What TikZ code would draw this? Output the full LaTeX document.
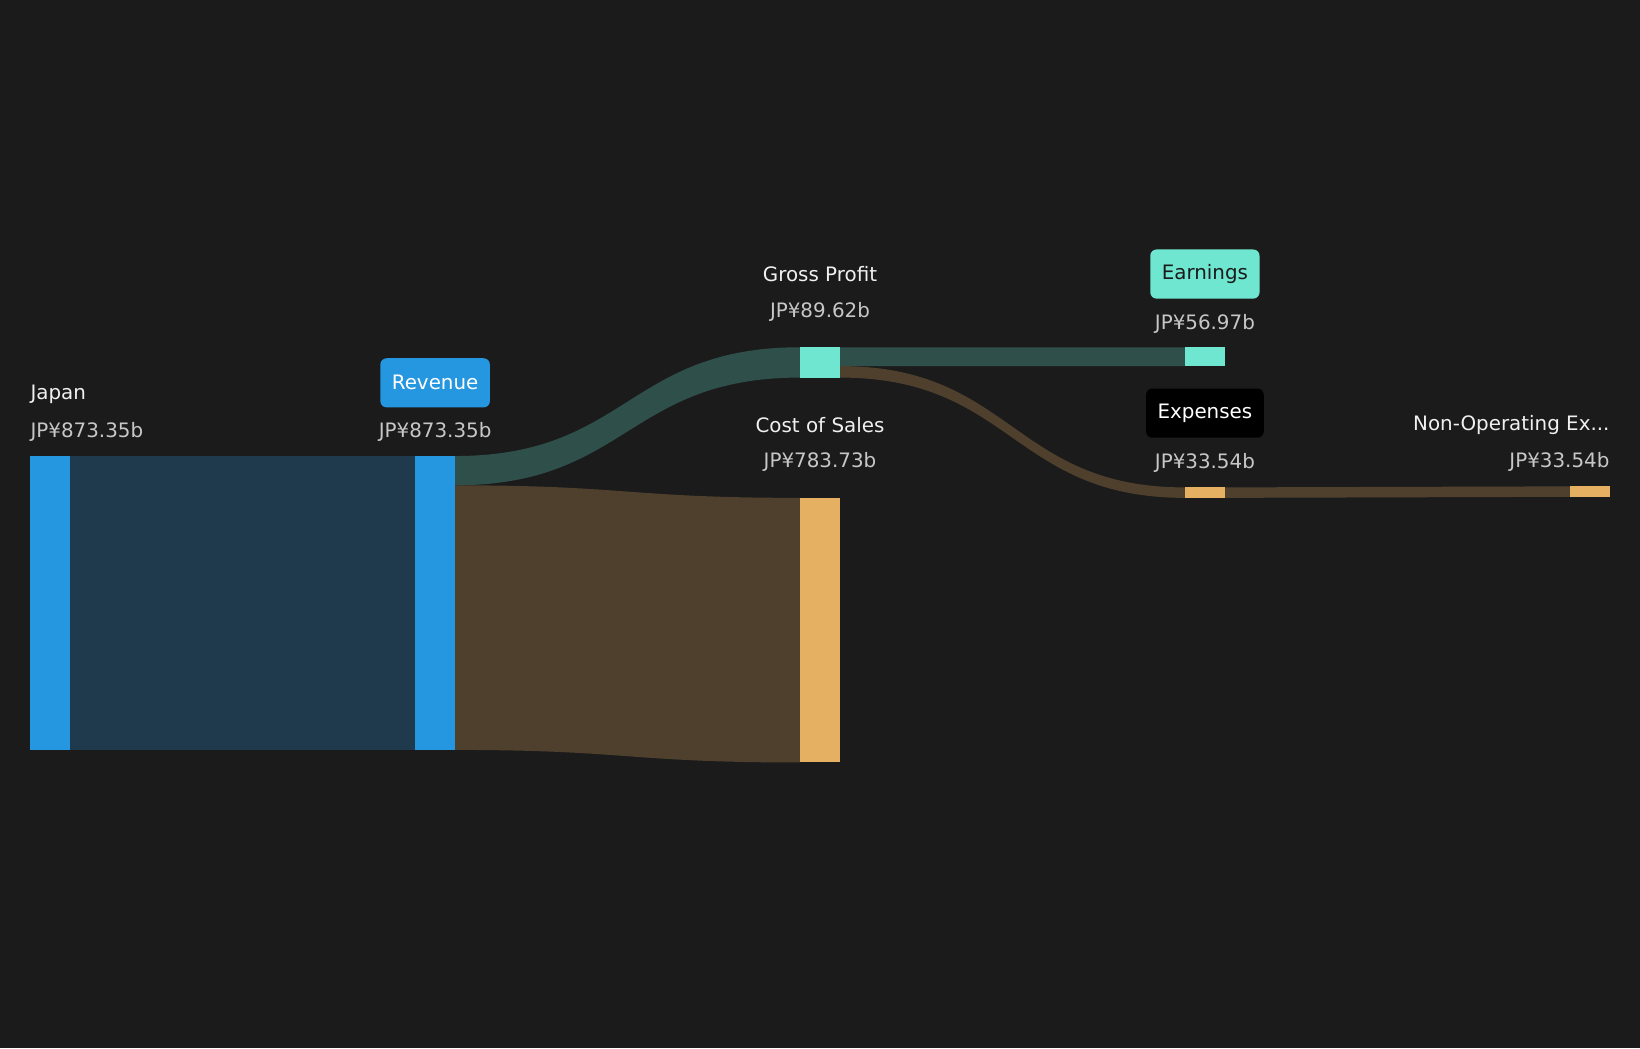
\documentclass[tikz,border=0pt]{standalone}
\usepackage{fontspec}
\setmainfont{DejaVu Sans}
\begin{document}
\begin{tikzpicture}[x=1pt,y=-1pt,
  bar/.style={inner sep=0,outer sep=0},
  nm/.style={text=white!94!black,font=\fontsize{19}{22}\selectfont,inner sep=0},
  vl/.style={text=white!78!black,font=\fontsize{19}{22}\selectfont,inner sep=0},
  tag/.style={rounded corners=6pt,font=\fontsize{19}{22}\selectfont,inner xsep=11pt,minimum height=47pt}]
\definecolor{bg}{HTML}{1B1B1B}
\definecolor{cblue}{HTML}{2596E0}
\definecolor{cteal}{HTML}{6EE6D0}
\definecolor{corange}{HTML}{E5B062}
\definecolor{fblue}{HTML}{1F3A4D}
\definecolor{fteal}{HTML}{2F4F4A}
\definecolor{fbrown}{HTML}{4F402E}
\fill[bg] (0,0) rectangle (1568,1002);
\useasboundingbox (0,0) rectangle (1568,1002);
\newcommand{\band}[9]{\fill[#9] (#1,#2) .. controls ({(#1+#4)/2},#2) and ({(#1+#4)/2},#5) .. (#4,#5) -- (#4,#6) .. controls ({(#1+#4)/2},#6) and ({(#1+#4)/2},#3) .. (#1,#3) -- cycle;}
% flows
\fill[fblue] (67,436) rectangle (397,717);
\band{435}{436}{464}{765}{332}{361}{}{}{fteal}
\band{435}{464}{717}{765}{476}{729}{}{}{fbrown}
\band{803}{332}{350}{1133}{332}{350}{}{}{fteal}
\band{803}{350}{361}{1133}{466}{476}{}{}{fbrown}
\band{1171}{466}{476}{1501}{465}{475}{}{}{fbrown}
% bars
\fill[cblue] (29,436) rectangle (67,717) coordinate (japan);
\fill[cblue] (397,436) rectangle (435,717) coordinate (rev);
\fill[cteal] (765,332) rectangle (803,361) coordinate (gp);
\fill[corange] (765,476) rectangle (803,729) coordinate (cos);
\fill[cteal] (1133,332) rectangle (1171,350) coordinate (earn);
\fill[corange] (1133,466) rectangle (1171,476) coordinate (exp);
\fill[corange] (1501,465) rectangle (1539,475) coordinate (nonop);
% labels
\node[nm,anchor=west] (l1) at (29,377) {Japan};
\node[vl,anchor=west] (v1) at (29,413) {JP¥873.35b};
\node[tag,fill=cblue,text=white] (l2) at (416,366) {Revenue};
\node[vl] (v2) at (416,413) {JP¥873.35b};
\node[nm] (l3) at (784,262) {Gross Profit};
\node[vl] (v3) at (784,298) {JP¥89.62b};
\node[nm] (l4) at (784,406) {Cost of Sales};
\node[vl] (v4) at (784,442) {JP¥783.73b};
\node[tag,fill=cteal,text=bg] (l5) at (1152,262) {Earnings};
\node[vl] (v5) at (1152,310) {JP¥56.97b};
\node[tag,fill=black,text=white] (l6) at (1152,395) {Expenses};
\node[vl] (v6) at (1152,443) {JP¥33.54b};
\node[nm,anchor=east] (l7) at (1539,406) {Non-Operating Ex...};
\node[vl,anchor=east] (v7) at (1539,442) {JP¥33.54b};
\end{tikzpicture}
\end{document}
